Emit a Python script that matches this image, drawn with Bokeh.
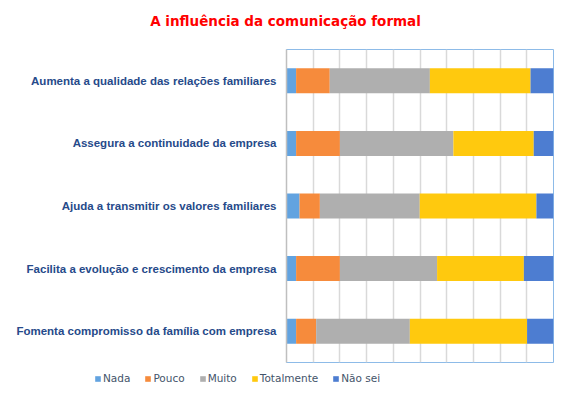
from bokeh.plotting import figure
from bokeh.models import FactorRange, Range1d, Legend, LegendItem, FixedTicker, Label
from bokeh.embed import file_html
from bokeh.resources import INLINE

title_text = "A influência da comunicação formal"
categories = [
    "Aumenta a qualidade das relações familiares",
    "Assegura a continuidade da empresa",
    "Ajuda a transmitir os valores familiares",
    "Facilita a evolução e crescimento da empresa",
    "Fomenta compromisso da família com empresa",
]
series = ["Nada", "Pouco", "Muito", "Totalmente", "Não sei"]
nada = [3.6, 3.6, 4.9, 3.6, 3.6]
pouco = [12.6, 16.4, 7.6, 16.4, 7.5]
muito = [37.5, 42.5, 37.4, 36.4, 35.1]
totalmente = [37.7, 30.1, 43.7, 32.5, 43.9]
nao_sei = [8.6, 7.4, 6.4, 11.1, 9.9]
colors = ["#62A3E0", "#F68B3C", "#AFAFAF", "#FFC90E", "#4D7DD1"]

keys = ["nada", "pouco", "muito", "totalmente", "nao_sei"]
data = dict(cat=categories, nada=nada, pouco=pouco, muito=muito,
            totalmente=totalmente, nao_sei=nao_sei)


def strip(height):
    f = figure(width=556, height=height, output_backend="svg", toolbar_location=None,
               x_range=Range1d(0, 1), y_range=Range1d(0, 1),
               min_border=0, min_border_left=0, min_border_right=0,
               min_border_top=0, min_border_bottom=0)
    f.title.visible = False
    f.axis.visible = False
    f.grid.visible = False
    f.outline_line_color = None
    f.background_fill_color = "white"
    f.border_fill_color = "white"
    return f


# title strip
tt = strip(36)
tt.add_layout(Label(x=285, y=16, x_units="screen", y_units="screen", text=title_text,
                    text_align="center", text_baseline="middle",
                    text_font="DejaVu Sans", text_font_style="bold",
                    text_font_size="13.5px", text_color="#FF0000"))

# main chart
p = figure(width=556, height=330, output_backend="svg", toolbar_location=None,
           y_range=FactorRange(factors=list(reversed(categories)), range_padding=0),
           x_range=Range1d(0, 100),
           min_border_left=286, min_border_right=3, min_border_top=13,
           min_border_bottom=4)
p.title.visible = False
p.background_fill_color = "white"
p.border_fill_color = "white"
p.outline_line_color = "#8DBBE8"

p.hbar_stack(keys, y="cat", height=0.4, color=colors, source=data, line_color=None)

p.xaxis.visible = False
p.xgrid.ticker = FixedTicker(ticks=list(range(0, 101, 10)))
p.xgrid.grid_line_color = "#D9D9D9"
p.xgrid.grid_line_width = 1.5
p.ygrid.visible = False

p.yaxis.axis_line_color = "#BFBFBF"
p.yaxis.axis_line_width = 1.5
p.yaxis.major_tick_line_color = None
p.yaxis.minor_tick_line_color = None
p.yaxis.major_label_standoff = 4
p.yaxis.major_label_text_font = "Liberation Sans"
p.yaxis.major_label_text_font_style = "bold"
p.yaxis.major_label_text_font_size = "11.5px"
p.yaxis.major_label_text_color = "#264A8A"

# legend strip
lg = strip(24)
items = []
for s, c in zip(series, colors):
    r = lg.quad(left=[-3], right=[-2], bottom=[-3], top=[-2], color=c, line_color=None)
    items.append(LegendItem(label=s, renderers=[r]))
legend = Legend(items=items, orientation="horizontal", location=(94, 6),
                padding=0, margin=0, spacing=14, label_standoff=2,
                glyph_width=7, glyph_height=7, label_height=12,
                label_text_font="DejaVu Sans", label_text_font_size="10.5px",
                label_text_color="#44546A", background_fill_alpha=0,
                border_line_color=None)
lg.add_layout(legend, "center")

open("out.html", "w").write(file_html([tt, p, lg], INLINE))
